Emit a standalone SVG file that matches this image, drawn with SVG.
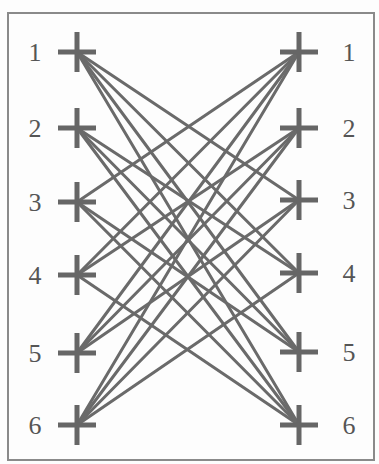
<svg xmlns="http://www.w3.org/2000/svg" width="379" height="464" viewBox="0 0 379 464">
<defs>
<style>
.bg{fill:#fdfdfd}
.frame{fill:none;stroke:#8a8a8a;stroke-width:2}
.edge{stroke:#6a6a6a;stroke-width:3;fill:none;stroke-linecap:round}
.cross{stroke:#666;stroke-width:5;fill:none}
.lbl{font-family:"Liberation Serif","Times New Roman",serif;font-size:26px;fill:#555;text-anchor:middle}
</style>
<path id="plus" class="cross" d="M-19 0H19M0 -20V20"/>
</defs>
<rect class="bg" x="0" y="0" width="379" height="464"/>
<rect class="frame" x="8" y="13" width="366" height="447"/>
<g id="connectors">
<line class="edge" x1="77" y1="52" x2="299" y2="200"/>
<line class="edge" x1="77" y1="52" x2="299" y2="273"/>
<line class="edge" x1="77" y1="52" x2="299" y2="352"/>
<line class="edge" x1="77" y1="52" x2="299" y2="425"/>
<line class="edge" x1="77" y1="128" x2="299" y2="273"/>
<line class="edge" x1="77" y1="128" x2="299" y2="352"/>
<line class="edge" x1="77" y1="128" x2="299" y2="425"/>
<line class="edge" x1="77" y1="202" x2="299" y2="52"/>
<line class="edge" x1="77" y1="202" x2="299" y2="352"/>
<line class="edge" x1="77" y1="202" x2="299" y2="425"/>
<line class="edge" x1="77" y1="275" x2="299" y2="52"/>
<line class="edge" x1="77" y1="275" x2="299" y2="128"/>
<line class="edge" x1="77" y1="275" x2="299" y2="425"/>
<line class="edge" x1="77" y1="353" x2="299" y2="52"/>
<line class="edge" x1="77" y1="353" x2="299" y2="128"/>
<line class="edge" x1="77" y1="353" x2="299" y2="200"/>
<line class="edge" x1="77" y1="425" x2="299" y2="52"/>
<line class="edge" x1="77" y1="425" x2="299" y2="128"/>
<line class="edge" x1="77" y1="425" x2="299" y2="200"/>
<line class="edge" x1="77" y1="425" x2="299" y2="273"/>
</g>
<g id="L1"><use href="#plus" x="77" y="52"/><text class="lbl" x="35" y="61">1</text></g>
<g id="L2"><use href="#plus" x="77" y="128"/><text class="lbl" x="35" y="137">2</text></g>
<g id="L3"><use href="#plus" x="77" y="202"/><text class="lbl" x="35" y="211">3</text></g>
<g id="L4"><use href="#plus" x="77" y="275"/><text class="lbl" x="35" y="284">4</text></g>
<g id="L5"><use href="#plus" x="77" y="353"/><text class="lbl" x="35" y="362">5</text></g>
<g id="L6"><use href="#plus" x="77" y="425"/><text class="lbl" x="35" y="434">6</text></g>
<g id="R1"><use href="#plus" x="299" y="52"/><text class="lbl" x="349" y="61">1</text></g>
<g id="R2"><use href="#plus" x="299" y="128"/><text class="lbl" x="349" y="137">2</text></g>
<g id="R3"><use href="#plus" x="299" y="200"/><text class="lbl" x="349" y="209">3</text></g>
<g id="R4"><use href="#plus" x="299" y="273"/><text class="lbl" x="349" y="282">4</text></g>
<g id="R5"><use href="#plus" x="299" y="352"/><text class="lbl" x="349" y="361">5</text></g>
<g id="R6"><use href="#plus" x="299" y="425"/><text class="lbl" x="349" y="434">6</text></g>
</svg>
